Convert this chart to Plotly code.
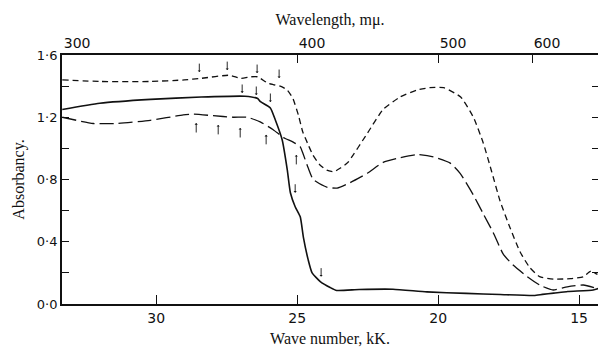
import plotly.graph_objects as go

# ---- data (wave number in kK, absorbancy) ----
solid_x = [33.33, 32.0, 30.2, 28.4, 26.85, 26.4, 26.3, 25.95, 25.78, 25.53, 25.35, 25.24, 25.07,
           24.89, 24.78, 24.61, 24.47, 24.18, 23.83, 23.6, 22.8, 21.6, 20.4, 19.0, 17.8, 16.6,
           16.3, 15.9, 15.4, 14.5, 14.3]
solid_y = [1.25, 1.29, 1.315, 1.33, 1.335, 1.32, 1.30, 1.26, 1.185, 1.054, 0.862, 0.715, 0.625,
           0.56, 0.43, 0.285, 0.20, 0.144, 0.106, 0.087, 0.093, 0.095, 0.078, 0.068, 0.061, 0.055,
           0.062, 0.07, 0.08, 0.09, 0.10]

short_x = [33.33, 32.0, 30.2, 29.0, 28.4, 27.4, 27.0, 26.65, 26.4, 26.05, 25.85, 25.6, 25.35,
           25.15, 24.95, 24.8, 24.6, 24.45, 24.2, 23.95, 23.7, 23.45, 23.2, 22.5, 21.95, 21.35,
           20.75, 20.3, 19.8, 19.2, 18.75, 18.4, 18.1, 17.8, 17.45, 17.1, 16.75, 16.4, 15.9,
           15.3, 14.85, 14.6, 14.35]
short_y = [1.44, 1.43, 1.43, 1.44, 1.45, 1.47, 1.45, 1.46, 1.46, 1.42, 1.41, 1.40, 1.375,
           1.32, 1.21, 1.105, 1.02, 0.96, 0.895, 0.86, 0.85, 0.875, 0.91, 1.10, 1.25, 1.33,
           1.375, 1.39, 1.39, 1.33, 1.20, 1.035, 0.85, 0.66, 0.49, 0.337, 0.234, 0.176, 0.16,
           0.163, 0.175, 0.21, 0.19]

long_x = [33.33, 32.23, 31.38, 30.21, 29.04, 28.69, 27.98, 27.27, 26.77, 26.31, 25.85, 25.49,
          25.14, 24.89, 24.78, 24.61, 24.43, 23.93, 23.58, 23.12, 22.51, 21.95, 21.34, 20.74,
          20.17, 19.57, 19.22, 18.75, 18.40, 18.05, 17.69, 17.34, 16.84, 16.38, 15.92, 15.42,
          14.85, 14.36]
long_y = [1.20, 1.16, 1.16, 1.18, 1.215, 1.22, 1.21, 1.20, 1.20, 1.17, 1.12, 1.07,
          1.04, 1.01, 0.96, 0.875, 0.80, 0.75, 0.745, 0.78, 0.84, 0.91, 0.94, 0.96,
          0.945, 0.905, 0.84, 0.70, 0.58, 0.46, 0.32, 0.25, 0.176, 0.12, 0.09, 0.11,
          0.122, 0.10]

# arrows (tip positions)
down_arrow_x = [28.47, 27.48, 26.42, 25.64, 26.95, 26.45, 25.95, 25.07, 24.15]
down_arrow_y = [1.49, 1.503, 1.484, 1.452, 1.356, 1.343, 1.298, 0.715, 0.176]
up_arrow_x = [28.58, 27.80, 27.02, 26.10, 25.03]
up_arrow_y = [1.163, 1.151, 1.131, 1.087, 0.958]

# axis ticks
kk_ticks = [30, 25, 20, 15]
kk_labels = ["30", "25", "20", "15"]
nm_ticks = [300, 400, 500, 600]
abs_ticks = [0.0, 0.2, 0.4, 0.6, 0.8, 1.0, 1.2, 1.4, 1.6]
abs_labels = ["0·0", "", "0·4", "", "0·8", "", "1·2", "", "1·6"]

XR = [33.34, 14.33]
YR = [0, 1.6]
ink = "#111111"
serif = "Liberation Serif"
sans = "DejaVu Sans"

fig = go.Figure()
fig.add_trace(go.Scatter(x=short_x, y=short_y, mode="lines",
                         line=dict(color=ink, width=1.3, dash="6px,4px", shape="spline", smoothing=0.5),
                         hoverinfo="skip", showlegend=False))
fig.add_trace(go.Scatter(x=long_x, y=long_y, mode="lines",
                         line=dict(color=ink, width=1.3, dash="14px,5px", shape="spline", smoothing=0.5),
                         hoverinfo="skip", showlegend=False))
fig.add_trace(go.Scatter(x=solid_x, y=solid_y, mode="lines",
                         line=dict(color=ink, width=1.6, shape="spline", smoothing=0.5),
                         hoverinfo="skip", showlegend=False))
# dummy traces to register the top and right axes
fig.add_trace(go.Scatter(x=[], y=[], xaxis="x2", yaxis="y", hoverinfo="skip", showlegend=False))
fig.add_trace(go.Scatter(x=[], y=[], xaxis="x", yaxis="y2", hoverinfo="skip", showlegend=False))

for ax_, ay_ in zip(down_arrow_x, down_arrow_y):
    fig.add_annotation(x=ax_, y=ay_, xref="x", yref="y", text="", showarrow=True,
                       ax=0, ay=-10, arrowhead=1, arrowsize=0.6, arrowwidth=0.9, arrowcolor=ink)
for ax_, ay_ in zip(up_arrow_x, up_arrow_y):
    fig.add_annotation(x=ax_, y=ay_, xref="x", yref="y", text="", showarrow=True,
                       ax=0, ay=11, arrowhead=1, arrowsize=0.6, arrowwidth=0.9, arrowcolor=ink)

fig.update_layout(
    width=598, height=350,
    margin=dict(l=62, r=0, t=55, b=46),
    paper_bgcolor="white", plot_bgcolor="white",
    xaxis=dict(range=XR, tickvals=kk_ticks, ticktext=kk_labels, ticks="inside", ticklen=9,
               tickwidth=1.3, tickcolor=ink, showline=True, linewidth=1.8, linecolor=ink,
               showgrid=False, zeroline=False, tickfont=dict(family=sans, size=14, color=ink),
               title=dict(text="Wave number, kK.", font=dict(family=serif, size=16, color=ink),
                          standoff=8)),
    xaxis2=dict(range=XR, overlaying="x", side="top",
                tickvals=[1e4 / nm for nm in nm_ticks], ticktext=[str(n) for n in nm_ticks],
                ticks="inside", ticklen=8, tickwidth=1.3, tickcolor=ink, showline=True,
                linewidth=1.8, linecolor=ink, showgrid=False, zeroline=False,
                ticklabelposition="outside right",
                tickfont=dict(family=sans, size=14, color=ink),
                title=dict(text="Wavelength, mμ.", font=dict(family=serif, size=16, color=ink),
                           standoff=5)),
    yaxis=dict(range=YR, tickvals=abs_ticks, ticktext=abs_labels, ticks="inside", ticklen=7,
               tickwidth=1.3, tickcolor=ink, showline=True, linewidth=1.8, linecolor=ink,
               showgrid=False, zeroline=False, tickfont=dict(family=sans, size=13, color=ink),
               title=dict(text="Absorbancy.", font=dict(family=serif, size=16, color=ink),
                          standoff=8)),
    yaxis2=dict(range=YR, overlaying="y", side="right", tickvals=abs_ticks[1:-1], ticks="inside",
                ticklen=6, tickwidth=1.3, tickcolor=ink, showticklabels=False, showline=False,
                showgrid=False, zeroline=False),
)

fig.write_html("out.html")
